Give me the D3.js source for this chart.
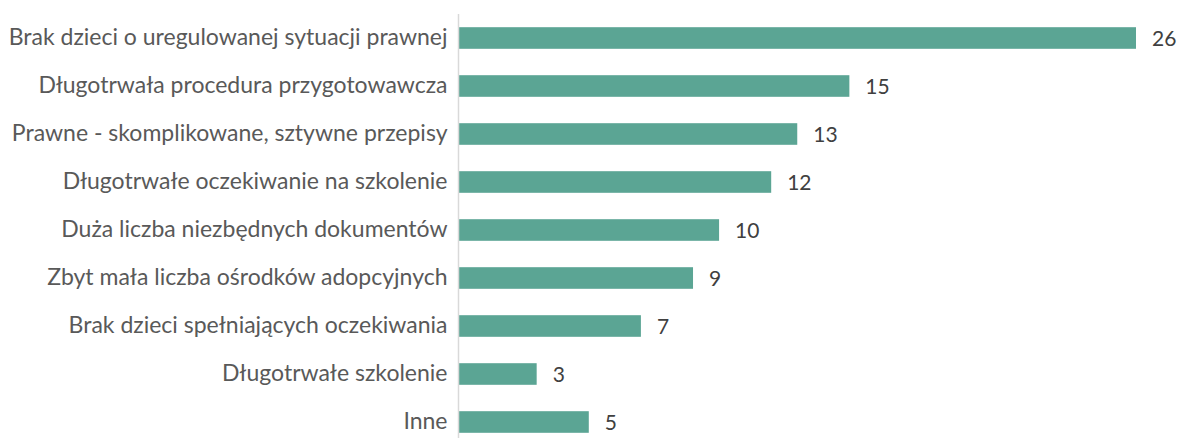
<!DOCTYPE html>
<html><head><meta charset="utf-8">
<script src="https://cdn.jsdelivr.net/npm/d3@7"></script>
<style>html,body{margin:0;padding:0;background:#fff;}svg{display:block;}</style>
</head><body>
<svg id="chart" width="1178" height="438"></svg>
<script>
const categories = [
  "Brak dzieci o uregulowanej sytuacji prawnej",
  "Długotrwała procedura przygotowawcza",
  "Prawne - skomplikowane, sztywne przepisy",
  "Długotrwałe oczekiwanie na szkolenie",
  "Duża liczba niezbędnych dokumentów",
  "Zbyt mała liczba ośrodków adopcyjnych",
  "Brak dzieci spełniających oczekiwania",
  "Długotrwałe szkolenie",
  "Inne"
];
const values = [26, 15, 13, 12, 10, 9, 7, 3, 5];

const svg = d3.select("#chart");
const x0 = 458.5;
const x = d3.scaleLinear().domain([0, 26]).range([x0, 1136]);
const y = d3.scaleBand().domain(categories).range([14, 446]).paddingInner(0.55).paddingOuter(0.275);

const font = "Lato, 'Open Sans', sans-serif";
const fs = 23;

svg.append("g").selectAll("rect").data(categories).join("rect")
  .attr("x", x(0))
  .attr("y", d => y(d))
  .attr("width", (d, i) => x(values[i]) - x(0))
  .attr("height", y.bandwidth())
  .attr("fill", "#5ba594");

svg.append("line")
  .attr("x1", x0).attr("x2", x0).attr("y1", 14).attr("y2", 446)
  .attr("stroke", "#d9d9d9").attr("stroke-width", 1.5);

const yAxis = d3.axisLeft(y).tickSize(0).tickPadding(11);
const ga = svg.append("g").attr("transform", `translate(${x0},0)`).call(yAxis);
ga.select(".domain").remove();
ga.selectAll("text").attr("font-family", font).attr("font-size", fs).attr("fill", "#595959");

svg.append("g").selectAll("text").data(categories).join("text")
  .attr("x", (d, i) => x(values[i]) + 16)
  .attr("y", d => y(d) + y.bandwidth() / 2)
  .attr("dy", "0.37em")
  .attr("font-family", font).attr("font-size", 21).attr("fill", "#404040")
  .text((d, i) => values[i]);
</script>
</body></html>
